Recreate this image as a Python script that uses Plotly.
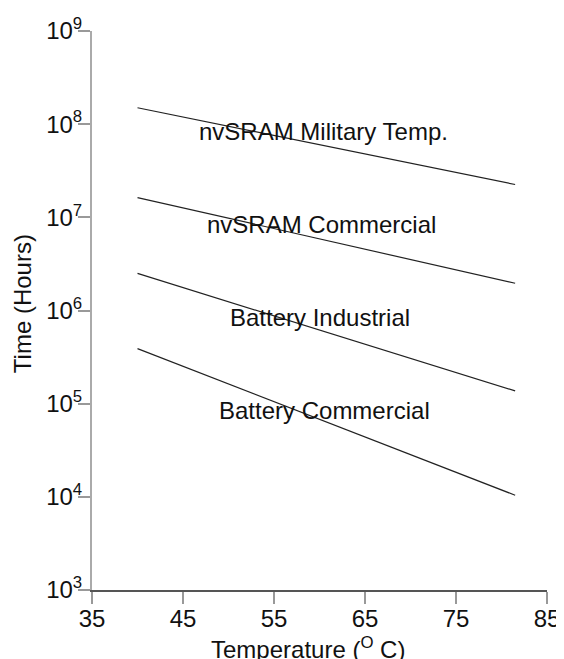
import plotly.graph_objects as go

# Data
temps = [40, 81.5]
series_names = ["nvSRAM Military Temp.", "nvSRAM Commercial", "Battery Industrial", "Battery Commercial"]
mil_nvsram = [1.5e8, 2.25e7]
com_nvsram = [1.63e7, 1.96e6]
ind_battery = [2.5e6, 1.37e5]
com_battery = [3.9e5, 1.04e4]

label_x = [60.4, 60.2, 60.0, 60.6]
label_y_log = [7.916, 6.928, 5.930, 4.932]

x_ticks = [35, 45, 55, 65, 75, 85]
y_ticks = [1e3, 1e4, 1e5, 1e6, 1e7, 1e8, 1e9]
y_ticktext = ["10<sup>3</sup>", "10<sup>4</sup>", "10<sup>5</sup>", "10<sup>6</sup>",
              "10<sup>7</sup>", "10<sup>8</sup>", "10<sup>9</sup>"]
x_title = "Temperature (<sup>O</sup> C)"
y_title = "Time (Hours)"

FONT = "Liberation Sans, Arial, sans-serif"
TXT = "#111111"

fig = go.Figure()
for name, vals in zip(series_names, [mil_nvsram, com_nvsram, ind_battery, com_battery]):
    fig.add_trace(go.Scatter(x=temps, y=vals, mode="lines", name=name,
                             line=dict(color="#222222", width=1.2), showlegend=False))

for name, lx, ly in zip(series_names, label_x, label_y_log):
    fig.add_annotation(x=lx, y=ly, text=name, showarrow=False,
                       font=dict(family=FONT, size=24, color=TXT),
                       xanchor="center", yanchor="middle")

# axis titles placed as annotations for precise positioning
fig.add_annotation(xref="paper", yref="paper", x=0.474, y=-0.074, text=x_title,
                   showarrow=False, xanchor="center", yanchor="top",
                   font=dict(family=FONT, size=24, color=TXT))
fig.add_annotation(xref="paper", yref="paper", x=-0.154, y=0.513, text=y_title,
                   showarrow=False, xanchor="center", yanchor="middle", textangle=-90,
                   font=dict(family=FONT, size=24, color=TXT))

# page has an 8px default body margin, so the figure is offset by 8px
fig.update_layout(
    width=556, height=651,
    margin=dict(l=84, r=17, t=23, b=69),
    paper_bgcolor="white", plot_bgcolor="white",
    font=dict(family=FONT, size=24, color=TXT),
)
fig.update_xaxes(
    range=[35, 85], tickvals=x_ticks, ticks="outside", ticklen=12, tickwidth=1.5,
    tickcolor="#999999", showline=True, linecolor="#555555", linewidth=1.5,
    showgrid=False, zeroline=False, automargin=False, ticklabelstandoff=-6,
    ticklabeloverflow="allow",
    tickfont=dict(family=FONT, size=24, color=TXT),
)
fig.update_yaxes(
    type="log", range=[3, 9], tickvals=y_ticks, ticktext=y_ticktext,
    ticks="outside", ticklen=12, tickwidth=1.5, tickcolor="#999999",
    showline=True, linecolor="#aaaaaa", linewidth=2, showgrid=False, zeroline=False,
    automargin=False, ticklabelstandoff=-9, ticklabeloverflow="allow",
    tickfont=dict(family=FONT, size=24, color=TXT),
)

fig.write_html("out.html")
